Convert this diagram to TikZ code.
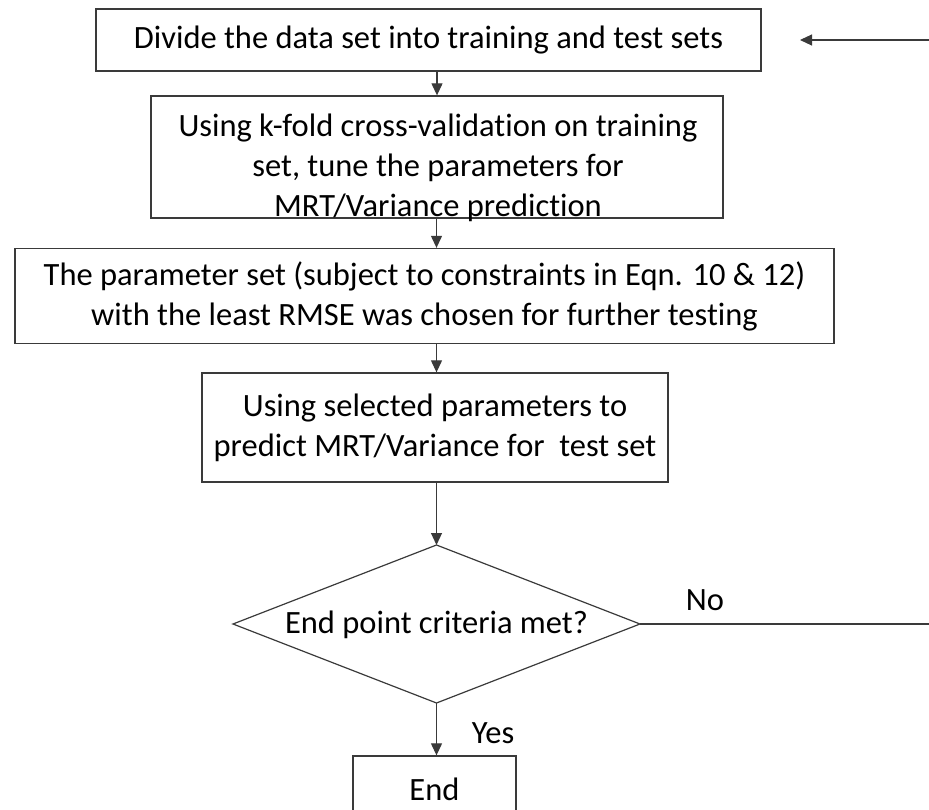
\documentclass[tikz,border=0pt]{standalone}
\usepackage{fontspec}
\setmainfont{Carlito}[Ligatures=NoCommon]
\usetikzlibrary{arrows.meta,calc}
\begin{document}
\begin{tikzpicture}[x=1pt,y=-1pt,
  every node/.style={font=\fontsize{32.5}{40}\selectfont, text=black},
  stepbox/.style={draw=linec, line width=1.3pt, align=center, inner sep=0pt},
  conn/.style={draw=linec, line width=1.1pt, -{Triangle[length=12pt,width=11pt]}},
  plain/.style={draw=linec, line width=1.2pt}]
\definecolor{linec}{HTML}{3A3A3A}
\useasboundingbox (0,0) rectangle (929,810);
\node[stepbox, minimum width=665, minimum height=62] (b1) at (428.5,40) {Divide the data set into training and test sets};
\node[stepbox, minimum width=572, minimum height=122] (b2) at (437,157) {};
\node[align=center, inner sep=0pt] (t2) at (438,168) {Using k-fold cross-validation on training\\set, tune the parameters for\\MRT/Variance prediction};
\node[stepbox, minimum width=819, minimum height=95] (b3) at (424.5,296) {The parameter set (subject to constraints in Eqn. 10 \& 12)\\with the least RMSE was chosen for further testing};
\node[stepbox, minimum width=466, minimum height=109] (b4) at (435,427.5) {Using selected parameters to\\predict MRT/Variance for\ \ test set};
\coordinate (dt) at (436.5,545);
\coordinate (db) at (436.5,703);
\coordinate (dl) at (233,624);
\coordinate (dr) at (640,624);
\draw[plain] (dt) -- (dr) -- (db) -- (dl) -- cycle;
\node (q) at (436.5,625) {End point criteria met?};
\node[stepbox, minimum width=163, minimum height=66] (e) at (434.5,789) {End};
\coordinate (nr) at (929,624);
\coordinate (tr) at (929,40);
\coordinate (ta) at (800,40);
\draw[conn] (b2.north |- b1.south) -- (b2.north);
\draw[conn] (b2.south -| dt) -- (b3.north -| dt);
\draw[conn] (b3.south -| dt) -- (b4.north -| dt);
\draw[conn] (b4.south -| dt) -- (dt);
\draw[conn] (db) -- (e.north -| db);
\draw[plain] (dr) -- (nr);
\draw[conn] (tr) -- (ta);
\node (no) at (705,600) {No};
\node (yes) at (493,733) {Yes};
\end{tikzpicture}
\end{document}
